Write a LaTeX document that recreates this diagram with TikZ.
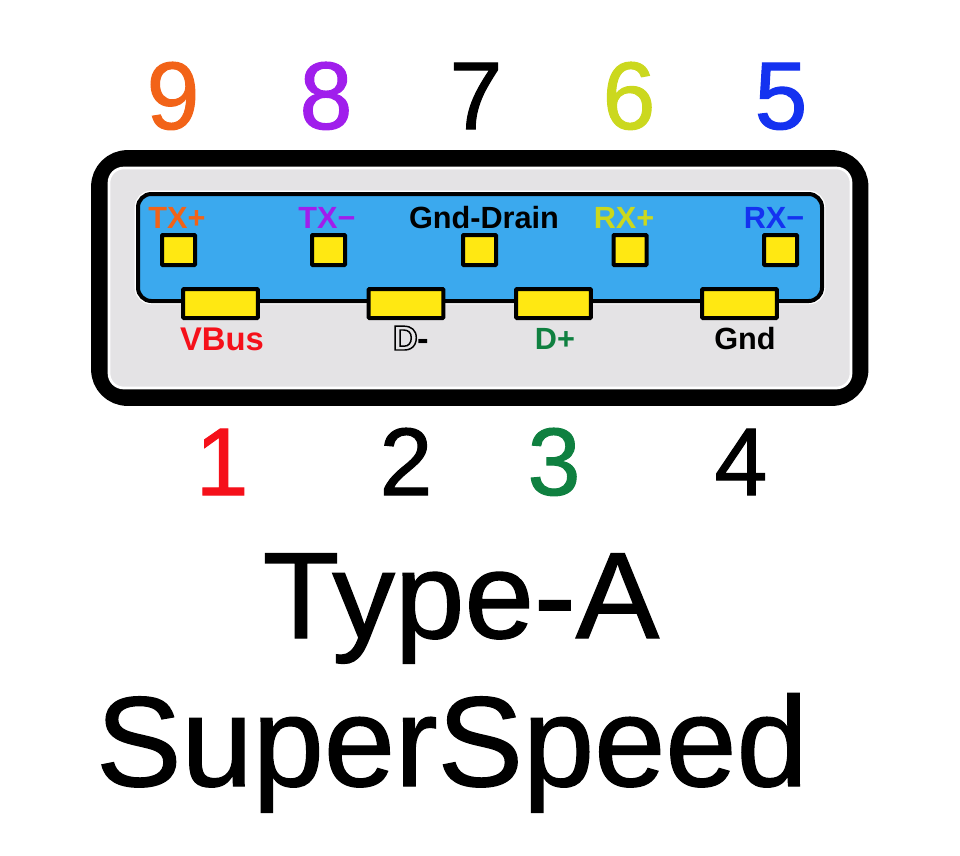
\documentclass[tikz,border=0pt]{standalone}
\usepackage{fontspec}
\setmainfont{Liberation Sans}
\definecolor{shellgray}{HTML}{E4E3E5}
\definecolor{tongueblue}{HTML}{3BA9EE}
\definecolor{pinyellow}{HTML}{FFE812}
\definecolor{txporange}{HTML}{F26318}
\definecolor{txmpurple}{HTML}{A01EEC}
\definecolor{rxpyellow}{HTML}{CBD81E}
\definecolor{rxmblue}{HTML}{1432F0}
\definecolor{vbusred}{HTML}{F5101A}
\definecolor{dpgreen}{HTML}{0F8040}
% text drawn with a thin outline of its own colour
\newcommand{\heavytext}[2]{\special{pdf:code 2 Tr #1 w}#2\special{pdf:code 0 Tr}}
\tikzset{
  smallpin/.style={draw=black, fill=pinyellow, line width=3pt, rounded corners=0.6pt,
    minimum width=24.75pt, minimum height=22.5pt, inner sep=0pt},
  widepin/.style={draw=black, fill=pinyellow, line width=3pt, rounded corners=0.6pt,
    minimum width=56pt, minimum height=21.75pt, inner sep=0pt},
  pinname/.style={font=\fontsize{23}{23}\selectfont\bfseries, anchor=base, inner sep=0pt},
  pinnumber/.style={font=\fontsize{72}{72}\selectfont, anchor=base, inner sep=0pt, xscale=0.99},
  caption/.style={font=\fontsize{#1}{#1}\selectfont, anchor=base, inner sep=0pt}
}
\begin{document}
\begin{tikzpicture}[x=0.75pt, y=-0.75pt]
    \useasboundingbox (0, 0) rectangle (960, 856);

    % connector shell
    \draw [line width=12.6pt, rounded corners=21pt] (99.5, 158.5) rectangle (860, 397.5);
    \draw [white, fill=shellgray, line width=2pt, rounded corners=11pt] (109, 168) rectangle (851, 388);

    % tongue
    \draw [white, line width=5pt, rounded corners=10pt] (138, 194) rectangle (822, 301);
    \draw [black, fill=tongueblue, line width=3pt, rounded corners=10pt] (138, 194) rectangle (822, 301);

    % upper row of contacts
    \node [smallpin] (pin9) at (178.5, 250) {};
    \node [smallpin] (pin8) at (328.5, 250) {};
    \node [smallpin] (pin7) at (479.5, 250) {};
    \node [smallpin] (pin6) at (630, 250) {};
    \node [smallpin] (pin5) at (780.5, 250) {};

    % lower row of contacts
    \node [widepin] (pin1) at (220.5, 303.5) {};
    \node [widepin] (pin2) at (406, 303.5) {};
    \node [widepin] (pin3) at (553.5, 303.5) {};
    \node [widepin] (pin4) at (739.5, 303.5) {};

    \node [pinname, txporange] (nameTXp) at (177, 228) {TX+};
    \node [pinname, txmpurple] (nameTXm) at (327, 228) {TX−};
    \node [pinname, black] (nameGD) at (484, 228) {Gnd-Drain};
    \node [pinname, rxpyellow] (nameRXp) at (624, 228) {RX+};
    \node [pinname, rxmblue] (nameRXm) at (774, 228) {RX−};

    \node [pinname, vbusred, font=\fontsize{24.6}{24.6}\selectfont\bfseries] (nameVBus) at (222, 350) {VBus};
    \node [pinname, black, font=\fontsize{26}{26}\selectfont\bfseries] (nameDm) at (411, 350)
    {\special{pdf:code 1 Tr 1.1 w}D\special{pdf:code 0 Tr}-};
    \node [pinname, dpgreen] (nameDp) at (555, 349) {D+};
    \node [pinname, black] (nameGnd) at (745, 349) {Gnd};

    \node [pinnumber, txporange] (num9) at (173, 129) {\heavytext{0.8}{9}};
    \node [pinnumber, txmpurple] (num8) at (326, 129) {\heavytext{0.8}{8}};
    \node [pinnumber, black] (num7) at (476, 129) {\heavytext{0.8}{7}};
    \node [pinnumber, rxpyellow] (num6) at (629, 129) {\heavytext{0.8}{6}};
    \node [pinnumber, rxmblue] (num5) at (781, 129) {\heavytext{0.8}{5}};

    \node [pinnumber, vbusred] (num1) at (222, 495) {\heavytext{0.8}{1}};
    \node [pinnumber, black] (num2) at (406, 495) {\heavytext{0.8}{2}};
    \node [pinnumber, dpgreen] (num3) at (554, 495) {\heavytext{0.8}{3}};
    \node [pinnumber, black] (num4) at (741, 495) {\heavytext{0.8}{4}};

    \node [caption=92, xscale=1.02] (titleType) at (461, 638) {\heavytext{1}{Type-A}};
    \node [caption=96] (titleSpeed) at (452, 786) {\heavytext{1}{SuperSpeed}};

  \end{tikzpicture}
\end{document}
